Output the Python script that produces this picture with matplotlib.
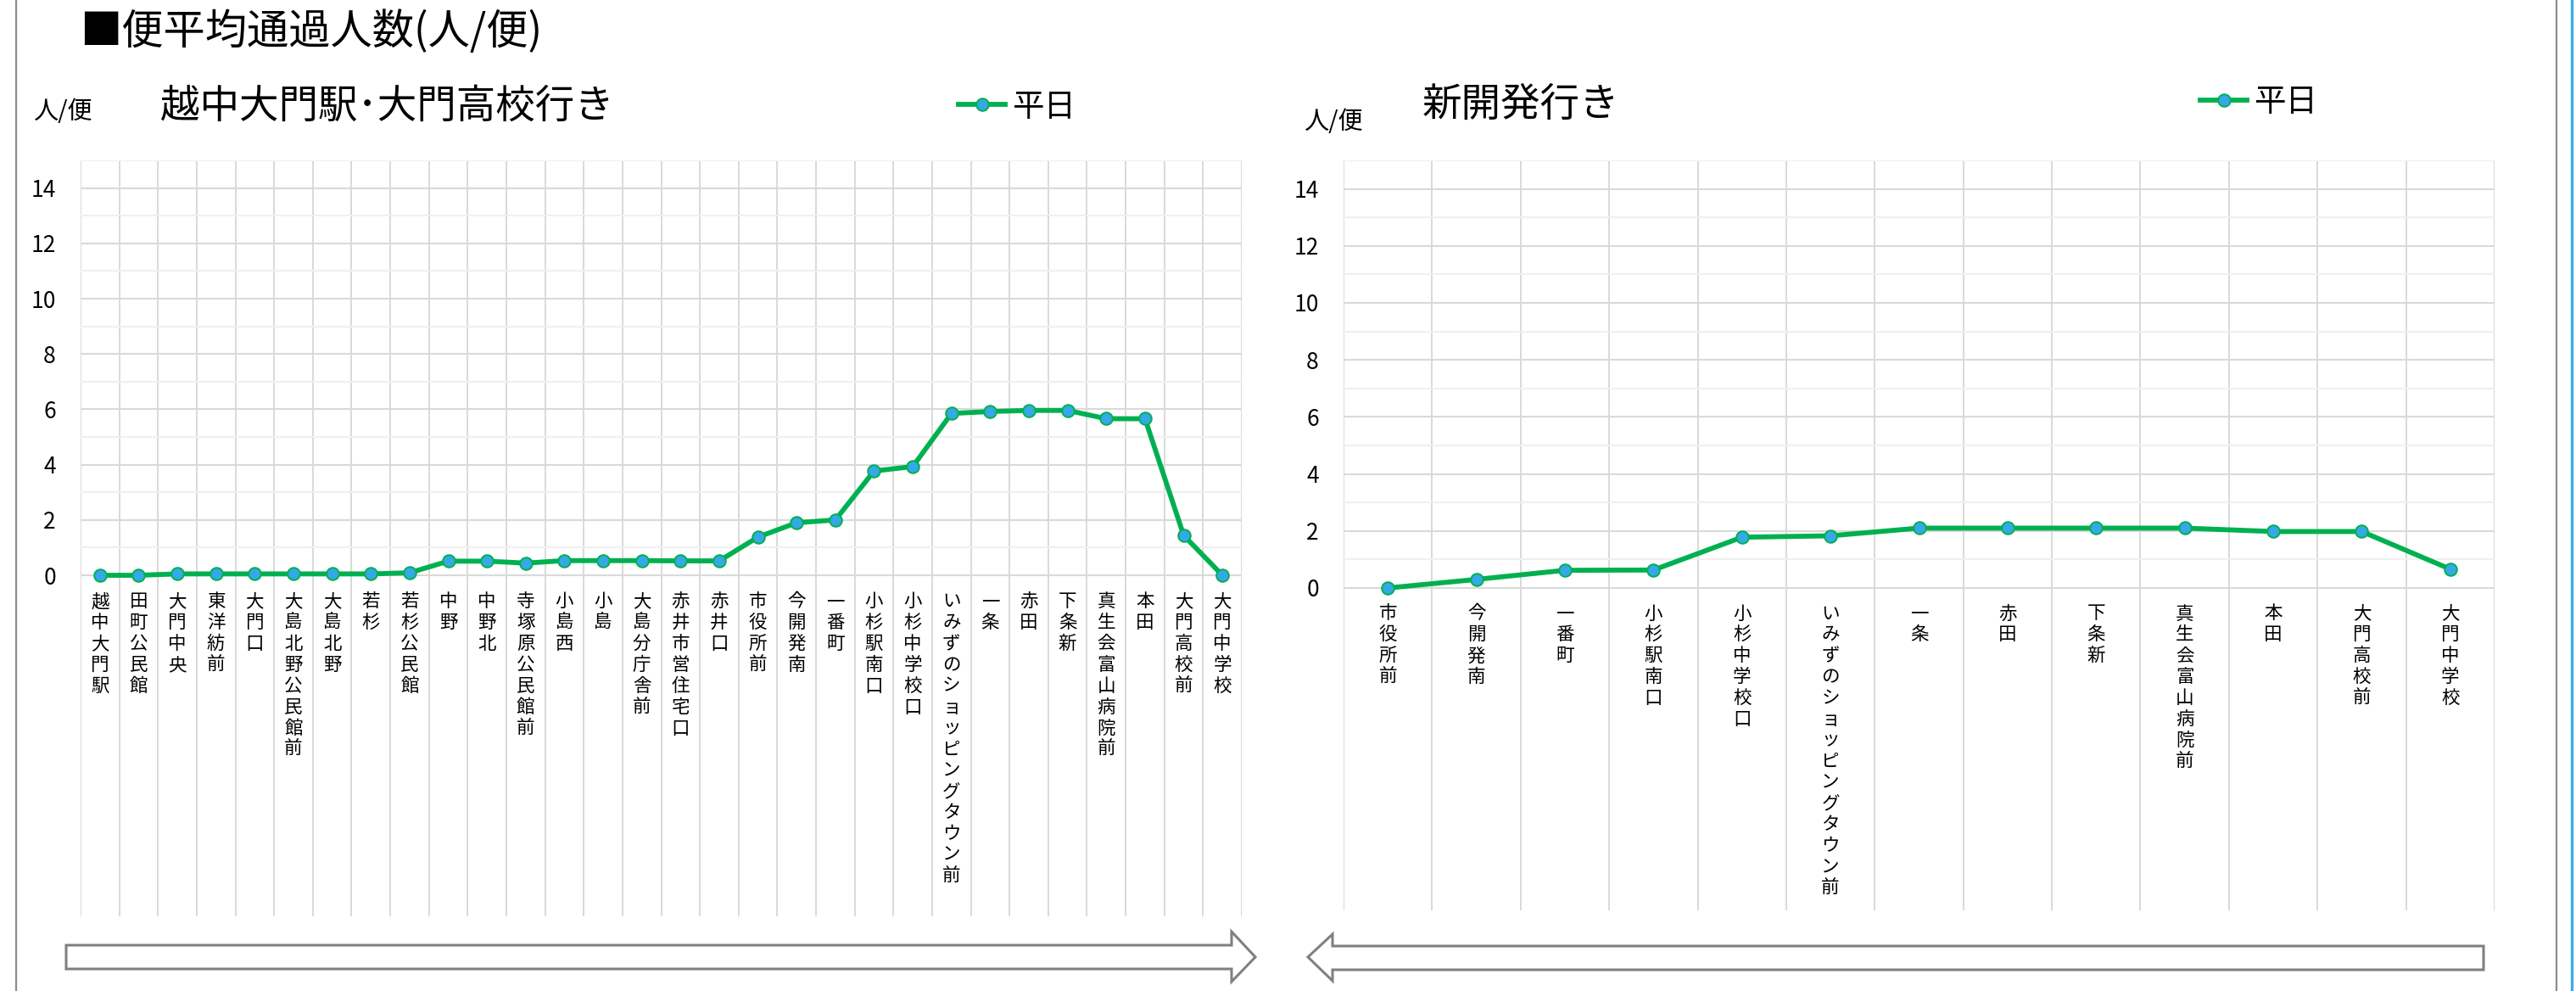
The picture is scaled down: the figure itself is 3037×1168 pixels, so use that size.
import numpy as np
import matplotlib
matplotlib.use("Agg")
import matplotlib.pyplot as plt
from matplotlib.patches import Polygon
from matplotlib.lines import Line2D

plt.rcParams['font.family'] = ['Noto Sans CJK JP', 'DejaVu Sans']

# データ: 越中大門駅・大門高校行き
left_stops = ['越中大門駅', '田町公民館', '大門中央', '東洋紡前', '大門口', '大島北野公民館前',
              '大島北野', '若杉', '若杉公民館', '中野', '中野北', '寺塚原公民館前', '小島西',
              '小島', '大島分庁舎前', '赤井市営住宅口', '赤井口', '市役所前', '今開発南',
              '一番町', '小杉駅南口', '小杉中学校口', 'いみずのショッピングタウン前', '一条',
              '赤田', '下条新', '真生会富山病院前', '本田', '大門高校前', '大門中学校']
left_vals = [0.0, 0.0, 0.05, 0.05, 0.05, 0.05, 0.05, 0.05, 0.09, 0.51, 0.51, 0.44, 0.53,
             0.53, 0.53, 0.52, 0.52, 1.38, 1.9, 2.0, 3.77, 3.93, 5.85, 5.92, 5.96, 5.96,
             5.66, 5.66, 1.44, 0.0]

# データ: 新開発行き
right_stops = ['市役所前', '今開発南', '一番町', '小杉駅南口', '小杉中学校口',
               'いみずのショッピングタウン前', '一条', '赤田', '下条新', '真生会富山病院前',
               '本田', '大門高校前', '大門中学校']
right_vals = [0.0, 0.3, 0.62, 0.63, 1.78, 1.83, 2.1, 2.1, 2.1, 2.1, 1.98, 1.98, 0.66]

series_name = '平日'
yticks = [0, 2, 4, 6, 8, 10, 12, 14]

W, H = 3037, 1168
fig = plt.figure(figsize=(W / 100, H / 100), dpi=100)


def px_axes(x0, y0, x1, y1):
    return fig.add_axes([x0 / W, 1 - y1 / H, (x1 - x0) / W, (y1 - y0) / H])


def fxy(x, y):
    return (x / W, 1 - y / H)


def draw_chart(ax, stops, vals, ybottom, label_off):
    n = len(stops)
    x = np.arange(n)
    ax.plot(x, vals, color='#00B050', lw=4.2, marker='o', ms=10.5,
            mfc='#35A8E6', mec='#00B050', mew=1.4, label=series_name, zorder=3)
    ax.set_xlim(-0.5, n - 0.5)
    ax.set_ylim(ybottom, 15)
    ax.set_yticks(yticks)
    ax.set_yticks(np.arange(1, 16, 2), minor=True)
    ax.set_xticks([])
    ax.set_xticks(np.arange(-0.5, n), minor=True)
    ax.tick_params(axis='y', which='both', length=0, pad=21, labelsize=19)
    ax.tick_params(axis='x', which='both', length=0)
    ax.grid(axis='y', which='major', color='#D9D9D9', lw=1.5)
    ax.grid(axis='y', which='minor', color='#F0F0F0', lw=1.5)
    ax.grid(axis='x', which='minor', color='#D9D9D9', lw=1.4)
    for s in ax.spines.values():
        s.set_visible(False)
    for i, name in enumerate(stops):
        ax.text(i, -label_off, '\n'.join(name), ha='center', va='top',
                fontsize=15.5, linespacing=1.17)


ax1 = px_axes(95, 189, 1464, 1080)
draw_chart(ax1, left_stops, left_vals, -12.33, 0.62)
ax2 = px_axes(1584, 189, 2941, 1073)
draw_chart(ax2, right_stops, right_vals, -11.31, 0.58)

# 凡例
for ax, (lx, ly) in ((ax1, (1130, 126)), (ax2, (2594, 121))):
    ax.legend(loc='center left', bbox_to_anchor=fxy(lx, ly), bbox_transform=fig.transFigure,
              frameon=False, fontsize=27, handlelength=1.47, handletextpad=0.2,
              borderpad=0, borderaxespad=0)

# タイトル類
fig.text(*fxy(94, 38), '■便平均通過人数(人/便)', fontsize=35.5, va='center', ha='left')
fig.text(*fxy(189, 126), '越中大門駅･大門高校行き', fontsize=33.5, va='center', ha='left')
fig.text(*fxy(1677, 124), '新開発行き', fontsize=33.5, va='center', ha='left')
fig.text(*fxy(39, 132), '人/便', fontsize=21, va='center', ha='left')
fig.text(*fxy(1537, 144), '人/便', fontsize=21, va='center', ha='left')

# 下部の矢印
left_arrow = [(78, 1114), (1452, 1114), (1452, 1098), (1480, 1128), (1452, 1157),
              (1452, 1142), (78, 1142)]
right_arrow = [(2928, 1115), (1571, 1115), (1571, 1101), (1542, 1128), (1571, 1156),
               (1571, 1143), (2928, 1143)]
for pts in (left_arrow, right_arrow):
    fig.add_artist(Polygon([fxy(px, py) for px, py in pts], closed=True,
                           transform=fig.transFigure, facecolor='white',
                           edgecolor='#808080', lw=2.2))

# 枠線
for xx, col, lw in ((19, '#8C8C8C', 1.6), (3014, '#8C8C8C', 1.6), (3032, '#3AAEE8', 2.4)):
    fig.add_artist(Line2D([xx / W, xx / W], [0, 1], transform=fig.transFigure,
                          color=col, lw=lw))

fig.savefig('out.png', dpi=100, facecolor='white')
